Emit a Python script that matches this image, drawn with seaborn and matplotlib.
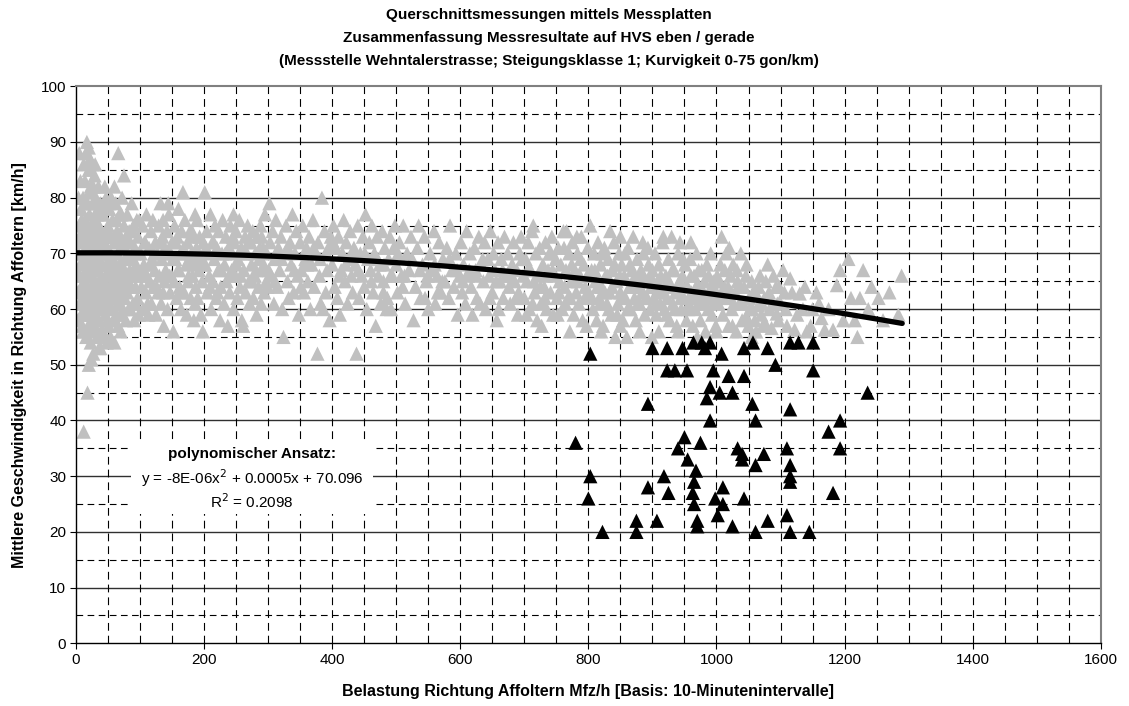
import numpy as np
import pandas as pd
import matplotlib
matplotlib.use("Agg")
import matplotlib.pyplot as plt
import seaborn as sns

# --- free-flow measurements (gray), grouped by traffic-volume band: (Mfz/h, km/h)
gray_0_50 = [(3,63),(4,70),(5,75),(5,88),(6,66),(7,72),(8,59),(8,78),(9,68),(10,62),(10,74),(11,80),
             (12,38),(12,56),(12,70),(13,65),(14,76),(14,83),(15,60),(15,71),(16,67),(16,88),(17,90),
             (17,74),(18,45),(18,63),(18,79),(19,57),(19,69),(20,50),(20,73),(20,85),(21,66),(21,77),
             (22,87),(22,61),(22,70),(23,54),(23,82),(24,64),(24,75),(25,59),(25,68),(25,86),(26,72),
             (26,79),(27,52),(27,62),(28,67),(28,76),(29,84),(29,57),(30,70),(30,65),(31,74),(31,80),
             (32,60),(32,69),(33,55),(33,77),(34,63),(34,72),(35,82),(35,67),(36,58),(36,75),(37,64),
             (37,71),(38,53),(38,79),(39,61),(39,68),(40,74),(40,66),(11,56),(24,51),(45,55),(7,83),
             (2,67),(3,58),(4,80),(6,61),(6,73),(8,64),(9,76),(10,57),(11,69),(13,60),(13,73),(14,66),
             (15,79),(16,55),(16,62),(17,70),(19,64),(19,75),(20,68),(21,59),(21,81),(23,66),(23,72),
             (24,57),(26,63),(26,69),(27,74),(27,82),(28,60),(29,71),(30,76),(31,62),(31,67),(32,73),
             (33,64),(34,58),(34,78),(35,70),(36,62),(37,68),(38,73),(39,56),(40,63),(30,86),(20,89),
             (12,86),(25,56),(36,53)]
gray_50_100 = [(42,56),(42,70),(43,77),(44,62),(45,65),(45,73),(46,59),(47,68),(47,80),(48,54),(48,64),
               (49,71),(50,75),(50,61),(51,57),(52,67),(52,78),(53,63),(54,70),(54,55),(55,73),(56,60),
               (56,66),(57,76),(58,58),(58,69),(59,64),(60,72),(60,54),(61,62),(62,67),(62,79),(63,59),
               (64,74),(64,65),(65,70),(66,88),(66,57),(67,63),(68,77),(68,68),(69,61),(70,73),(70,56),
               (71,66),(72,80),(72,59),(73,71),(74,64),(75,84),(75,75),(76,62),(77,69),(78,58),(78,73),
               (79,66),(80,77),(80,63),(81,70),(82,60),(83,74),(84,67),(85,72),(86,64),(87,79),(88,69),
               (89,61),(90,75),(90,66),(91,58),(92,71),(93,64),(94,68),(95,76),(96,62),(97,73),(98,59),(99,66),
               (41,77),(41,68),(43,60),(44,72),(46,66),(47,74),(49,58),(50,68),(51,79),(53,70),(55,62),
               (57,65),(59,73),(61,68),(63,76),(65,61),(67,72),(69,65),(71,77),(73,60),(76,67),(79,72),
               (82,65),(85,60),(88,74),(91,67),(94,61),(97,70),(99,76),(45,82),(55,80),(60,82)]
gray_100_200 = [(101,70),(102,64),(104,75),(105,60),(106,68),(108,72),(109,63),(110,77),(111,66),(113,59),
                (114,71),(115,65),(117,74),(118,61),(119,69),(120,76),(121,64),(123,67),(124,72),(125,59),
                (127,70),(128,63),(129,75),(130,66),(132,79),(133,61),(134,69),(135,73),(137,57),(138,65),
                (139,71),(140,67),(142,74),(143,60),(144,79),(145,77),(147,63),(148,70),(149,66),(150,72),
                (152,56),(153,65),(154,75),(155,69),(157,62),(158,73),(159,67),(160,78),(162,64),(163,70),
                (164,60),(165,74),(167,81),(168,71),(169,63),(170,76),(172,68),(173,59),(174,72),(175,65),
                (177,69),(178,74),(179,62),(180,70),(182,66),(183,73),(184,58),(185,68),(187,64),(188,71),
                (189,76),(190,62),(192,67),(193,73),(194,69),(195,59),(197,65),(198,56),(199,72),
                (103,67),(107,72),(112,61),(116,68),(122,70),(126,64),(131,72),(136,63),(141,70),(146,66),
                (151,69),(156,72),(161,67),(166,63),(171,70),(176,66),(181,74),(186,61),(191,70),(196,68),
                (136,76),(186,77)]
gray_200_300 = [(201,81),(202,68),(204,74),(205,63),(207,70),(208,66),(210,77),(211,60),(213,72),(214,65),
                (216,69),(217,75),(219,62),(220,71),(222,67),(223,74),(225,58),(226,64),(228,70),(229,76),
                (231,61),(232,68),(234,73),(235,65),(237,57),(238,71),(240,63),(241,75),(243,67),(244,70),
                (246,60),(247,72),(249,66),(250,74),(252,62),(253,69),(255,76),(256,64),(258,71),(259,58),
                (261,57),(262,67),(264,73),(265,63),(267,70),(268,75),(270,65),(271,61),(273,72),(274,68),
                (276,74),(277,62),(279,66),(280,70),(282,59),(283,73),(285,64),(286,69),(288,75),(289,61),
                (291,67),(292,71),(294,63),(295,77),(297,65),(298,70),
                (203,71),(209,64),(215,72),(221,63),(227,67),(233,70),(239,66),(245,73),(251,68),(257,66),
                (263,70),(269,72),(275,65),(281,67),(287,71),(293,68),(299,64),(246,77),(290,73)]
gray_300_400 = [(302,79),(303,72),(305,66),(307,74),(309,61),(310,69),(312,76),(314,64),(316,71),(318,67),
                (320,73),(322,60),(324,55),(326,70),(328,75),(330,65),(332,62),(334,72),(336,68),(338,77),
                (340,63),(342,70),(344,74),(346,66),(348,59),(350,72),(352,67),(354,75),(356,63),(358,69),
                (360,71),(362,65),(364,73),(366,60),(368,68),(370,76),(372,64),(374,70),(377,52),(378,72),
                (380,66),(382,61),(384,80),(386,60),(388,74),(390,63),(392,67),(394,71),(396,58),(398,73),
                (301,67),(311,65),(321,69),(331,71),(341,67),(351,64),(361,68),(371,71),(381,69),(391,70)]
gray_400_500 = [(400,68),(402,75),(404,64),(406,71),(408,62),(410,73),(412,59),(414,67),(416,70),(418,76),
                (420,65),(422,72),(424,61),(426,69),(428,74),(430,66),(432,63),(434,71),(436,68),(438,52),
                (440,75),(442,62),(444,70),(446,66),(448,73),(450,64),(452,77),(454,60),(456,69),(458,72),
                (460,67),(462,75),(464,63),(466,70),(468,57),(470,73),(472,66),(474,68),(476,61),(478,74),
                (480,65),(482,71),(485,60),(486,62),(488,69),(490,73),(492,60),(494,66),(496,71),(498,75),
                (401,72),(411,66),(421,68),(431,70),(441,67),(451,70),(461,65),(471,69),(481,68),(491,66),
                (480,63)]
gray_500_600 = [(500,68),(502,63),(505,72),(508,66),(511,75),(514,61),(517,70),(520,67),(523,73),(527,58),
                (530,64),(533,71),(535,75),(538,62),(541,68),(544,73),(547,65),(550,60),(553,70),(556,67),
                (559,74),(561,61),(564,66),(567,72),(570,63),(573,69),(576,65),(579,71),(582,62),(584,75),
                (587,67),(590,64),(593,70),(596,59),(599,66),
                (503,70),(513,66),(525,69),(537,67),(549,66),(560,68),(572,65),(583,69),(595,67),(545,62),
                (565,63),(510,64)]
gray_600_700 = [(601,72),(603,63),(605,68),(608,61),(610,74),(612,66),(615,70),(617,64),(619,59),(622,71),
                (624,67),(626,62),(629,73),(631,61),(633,68),(636,65),(638,72),(640,60),(643,69),(645,66),
                (647,74),(650,63),(652,70),(654,67),(657,58),(659,72),(660,60),(662,65),(664,69),(667,62),
                (669,73),(671,66),(674,70),(676,64),(678,61),(681,68),(683,72),(685,65),(688,67),(690,59),
                (691,63),(693,70),(695,73),(698,66),
                (604,65),(614,67),(625,66),(635,69),(646,62),(656,65),(666,67),(677,66),(687,62),(697,69)]
gray_700_800 = [(700,62),(702,69),(704,65),(706,72),(708,60),(710,67),(712,74),(714,75),(716,63),(718,70),
                (720,58),(722,66),(724,71),(726,61),(727,57),(729,68),(731,64),(733,72),(735,60),(737,67),
                (739,70),(741,63),(743,73),(745,59),(747,66),(749,69),(751,62),(753,71),(755,65),(757,68),
                (759,60),(761,74),(763,64),(765,67),(766,74),(768,62),(770,70),(771,56),(773,65),(775,72),
                (777,59),(779,67),(781,63),(783,70),(785,61),(787,66),(789,73),(791,58),(793,68),(795,64),
                (797,57),(799,71),
                (705,67),(715,65),(725,64),(734,66),(744,67),(754,63),(764,61),(774,68),(784,65),(794,62),
                (703,59),(713,61),(732,62),(752,59),(772,62),(788,69),(798,66),(742,70),(762,71),(782,73)]
gray_800_900 = [(801,63),(803,75),(805,67),(807,60),(809,70),(811,65),(813,58),(815,72),(817,62),(819,68),
                (821,64),(823,57),(825,71),(827,66),(829,61),(831,69),(833,63),(834,74),(836,59),(838,67),
                (840,72),(842,55),(844,65),(846,61),(848,70),(850,63),(852,68),(854,58),(856,66),(858,62),
                (860,55),(862,71),(864,64),(866,60),(868,67),(870,73),(872,62),(874,58),(876,69),(878,65),
                (880,61),(882,67),(884,63),(886,70),(888,59),(890,65),(892,62),(894,68),(896,60),(898,64),(899,55),
                (802,66),(806,62),(810,67),(814,64),(818,61),(822,70),(826,63),(830,66),(832,60),(837,64),
                (841,68),(845,59),(849,66),(853,62),(857,70),(861,60),(865,68),(869,64),(873,66),(877,61),
                (881,64),(885,66),(889,62),(893,71),(897,66),(820,56),(850,57),(880,56),(850,73),(885,72)]
gray_900_1000 = [(900,67),(902,62),(904,70),(906,59),(908,65),(910,68),(912,61),(914,63),(916,72),(917,73),
                 (919,60),(921,66),(923,62),(925,69),(927,58),(929,64),(930,73),(932,61),(934,67),(936,63),
                 (938,57),(940,70),(942,65),(943,72),(945,60),(947,66),(949,62),(951,68),(953,58),(955,64),
                 (957,61),(959,69),(961,63),(963,57),(965,66),(967,60),(969,70),(971,62),(973,64),(975,58),
                 (977,67),(979,61),(981,65),(983,56),(985,68),(987,60),(989,63),(991,70),(993,59),(995,65),
                 (997,62),(999,57),
                 (901,64),(905,61),(909,63),(913,66),(918,64),(922,59),(926,65),(931,67),(935,60),(939,64),
                 (944,62),(948,69),(952,64),(956,60),(960,66),(964,62),(968,64),(972,67),(976,61),(980,63),
                 (984,62),(988,66),(992,64),(996,61),(910,56),(940,56),(970,55),(960,72)]
gray_1000_1100 = [(1001,66),(1003,61),(1006,68),(1008,73),(1010,59),(1012,64),(1015,70),(1017,62),(1019,57),
                  (1022,66),(1024,60),(1026,68),(1029,63),(1031,56),(1033,65),(1036,61),(1038,70),(1040,58),
                  (1043,64),(1047,68),(1047,58.6),(1050,57),(1052,60),(1055,65),(1057,63),(1060,58),(1062,56),
                  (1065,60.7),(1068,66),(1070,59),(1073,57.2),(1075,62),(1078,57),(1080,68),(1083,60),
                  (1086,56.6),(1089,66),(1094,59.2),(1095,61),(1098,64),
                  (1000,63),(1004,65),(1009,62),(1013,67),(1018,64),(1023,63),(1027,61),(1032,67),(1037,64),
                  (1042,61),(1046,66),(1051,62),(1056,60),(1061,63),(1066,64),(1071,61),(1077,65),(1082,63),
                  (1088,61),(1093,64),(1097,58),(1000,56),(1025,57),(1055,55),(1020,71)]
gray_1100_1300 = [(1104,67),(1106,63),(1110,57),(1115,65.5),(1122,56.3),(1130,62.8),(1135,60),(1141,56),
                  (1150,60),(1156,63),(1164,58.4),(1169,56.3),(1182,56.3),(1188,64.3),(1193,67),(1206,69),
                  (1216,58),(1224,62),(1229,67),(1237,60),(1242,64),(1253,62),(1284,59),(1289,66),
                  (1100,61),(1108,60),(1118,63),(1126,59),(1138,64),(1147,57),(1160,61),(1175,60),
                  (1198,58),(1210,62),(1220,55),(1260,58),(1270,63)]

# --- congested measurements (black)
black_points = [(780,36),(800,26),(803,30),(803,52),(822,20),(875,20),(875,22),(893,43),(893,28),
                (900,53),(907,22),(918,30),(923,53),(923,49),(925,27),(935,49),(940,35),(947,53),
                (950,37),(954,49),(955,33),(963,27),(964,54),(965,29),(965,25),(968,31),(970,22),
                (970,21),(975,36),(977,54),(982,53),(985,44),(990,54),(990,46),(990,40),(995,49),
                (998,26),(1002,23),(1005,45),(1008,52),(1010,28),(1010,25),(1019,48),(1025,45),
                (1025,21),(1033,35),(1040,34),(1040,33),(1043,53),(1043,48),(1043,26),(1057,54),
                (1056,43),(1061,40),(1061,32),(1061,20),(1074,34),(1080,53),(1080,22),(1092,50),
                (1110,35),(1110,23),(1115,54),(1115,42),(1115,32),(1115,30),(1115,29),(1115,20),
                (1128,54),(1145,20),(1151,54),(1151,49),(1175,38),(1182,27),(1193,40),(1193,35),(1236,45)]

# polynomial trend (Excel-style 2nd order)
trend_coef = [-8e-06, 0.0005, 70.096]
trend_label = ["polynomischer Ansatz:", "y = -8E-06x$^2$ + 0.0005x + 70.096", "R$^2$ = 0.2098"]

title_lines = ["Querschnittsmessungen mittels Messplatten",
               "Zusammenfassung Messresultate auf HVS eben / gerade",
               "(Messstelle Wehntalerstrasse; Steigungsklasse 1; Kurvigkeit 0-75 gon/km)"]
x_label = "Belastung Richtung Affoltern Mfz/h [Basis: 10-Minutenintervalle]"
y_label = "Mittlere Geschwindigkeit in Richtung Affoltern [km/h]"

sns.set_theme(style="white")
plt.rcParams["font.family"] = ["Liberation Sans", "DejaVu Sans"]
plt.rcParams.update({"text.color": "black", "axes.labelcolor": "black",
                     "xtick.color": "black", "ytick.color": "black"})

gray_all = (gray_0_50 + gray_50_100 + gray_100_200 + gray_200_300 + gray_300_400 + gray_400_500 +
            gray_500_600 + gray_600_700 + gray_700_800 + gray_800_900 + gray_900_1000 +
            gray_1000_1100 + gray_1100_1300)
gray_df = pd.DataFrame(gray_all, columns=["flow", "speed"])
black_df = pd.DataFrame(black_points, columns=["flow", "speed"])

fig = plt.figure(figsize=(11.29, 7.06), dpi=100)
ax = fig.add_axes([0.0673, 0.0888, 0.9077, 0.789])

# grid: solid every 10 km/h, dashed every 5 km/h and every 50 Mfz/h
for v in np.arange(5, 100, 10):
    ax.axhline(v, color="black", lw=0.8, ls=(0, (6, 4)), zorder=0)
for v in np.arange(10, 100, 10):
    ax.axhline(v, color="#303030", lw=1.0, zorder=0)
for v in np.arange(50, 1600, 50):
    ax.axvline(v, color="black", lw=0.8, ls=(0, (7, 4.5)), zorder=0)

sns.scatterplot(data=gray_df, x="flow", y="speed", marker="^", s=105, color="#C0C0C0",
                edgecolor="none", linewidth=0, ax=ax, zorder=2)

trend_x = np.linspace(gray_df["flow"].min(), 1290, 200)
trend_df = pd.DataFrame({"flow": trend_x, "speed": np.polyval(trend_coef, trend_x)})
sns.lineplot(data=trend_df, x="flow", y="speed", color="black", lw=3.8, ax=ax, zorder=3)

sns.scatterplot(data=black_df, x="flow", y="speed", marker="^", s=105, color="black",
                edgecolor="none", linewidth=0, ax=ax, zorder=4)

ax.set_xlim(0, 1600)
ax.set_ylim(0, 100)
ax.set_xticks(np.arange(0, 1601, 200))
ax.set_yticks(np.arange(0, 101, 10))
ax.tick_params(axis="both", which="major", direction="out", length=4, width=0.8,
               labelsize=11, color="black", labelcolor="black", pad=3, left=True, bottom=True)
for side in ["left", "bottom"]:
    ax.spines[side].set_color("black")
    ax.spines[side].set_linewidth(1.0)
for side in ["top", "right"]:
    ax.spines[side].set_color("#808080")
    ax.spines[side].set_linewidth(1.5)

ax.set_xlabel(x_label, fontsize=11.5, fontweight="bold", labelpad=12, color="black")
ax.set_ylabel(y_label, fontsize=11.5, fontweight="bold", labelpad=10, color="black")

for i, line in enumerate(title_lines):
    fig.text(0.486, 0.979 - i * 0.0325, line, ha="center", va="center",
             fontsize=11, fontweight="bold", color="black")

# trend label block on a white backdrop
ax.add_patch(plt.Rectangle((86, 23.3), 378, 12.7, facecolor="white", edgecolor="none", zorder=4.5))
ax.text(275, 34.0, trend_label[0], ha="center", va="center", fontsize=11, fontweight="bold",
        color="black", zorder=5)
ax.text(275, 29.7, trend_label[1], ha="center", va="center", fontsize=11, color="black", zorder=5)
ax.text(275, 25.4, trend_label[2], ha="center", va="center", fontsize=11, color="black", zorder=5)

fig.savefig("out.png", dpi=100)
